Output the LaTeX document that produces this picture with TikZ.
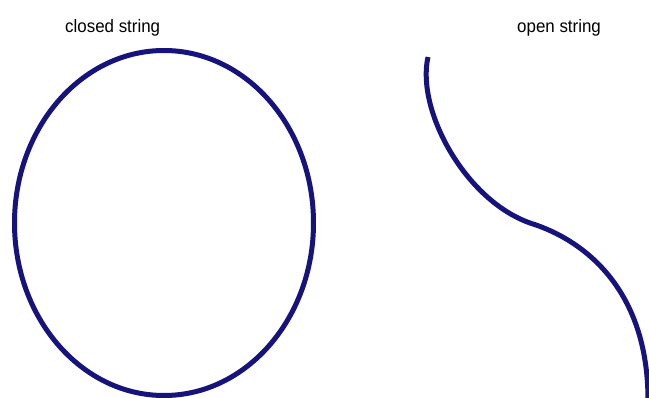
\documentclass[tikz,border=0pt]{standalone}
\usepackage{fontspec}
\setmainfont{Liberation Sans}[FakeStretch=0.94]
\definecolor{stringblue}{RGB}{22,20,124}
\begin{document}
\begin{tikzpicture}[x=1pt,y=-1pt,
  stringline/.style={draw=stringblue,line width=5pt},
  label/.style={font=\fontsize{18}{21}\selectfont,inner sep=0pt,anchor=base west}]
\useasboundingbox (0,0) rectangle (649,398);
\fill[white] (0,0) rectangle (649,398);
\node[label] (closed) at (65,33) {closed string};
\node[label] (open) at (517,33) {open string};
\draw[stringline] (164,223) ellipse [x radius=149.5, y radius=172.5];
\draw[stringline] (428,57) .. controls (416,110) and (465,200) .. (530,223)
  .. controls (585,240) and (648,290) .. (648,400);
\end{tikzpicture}
\end{document}
